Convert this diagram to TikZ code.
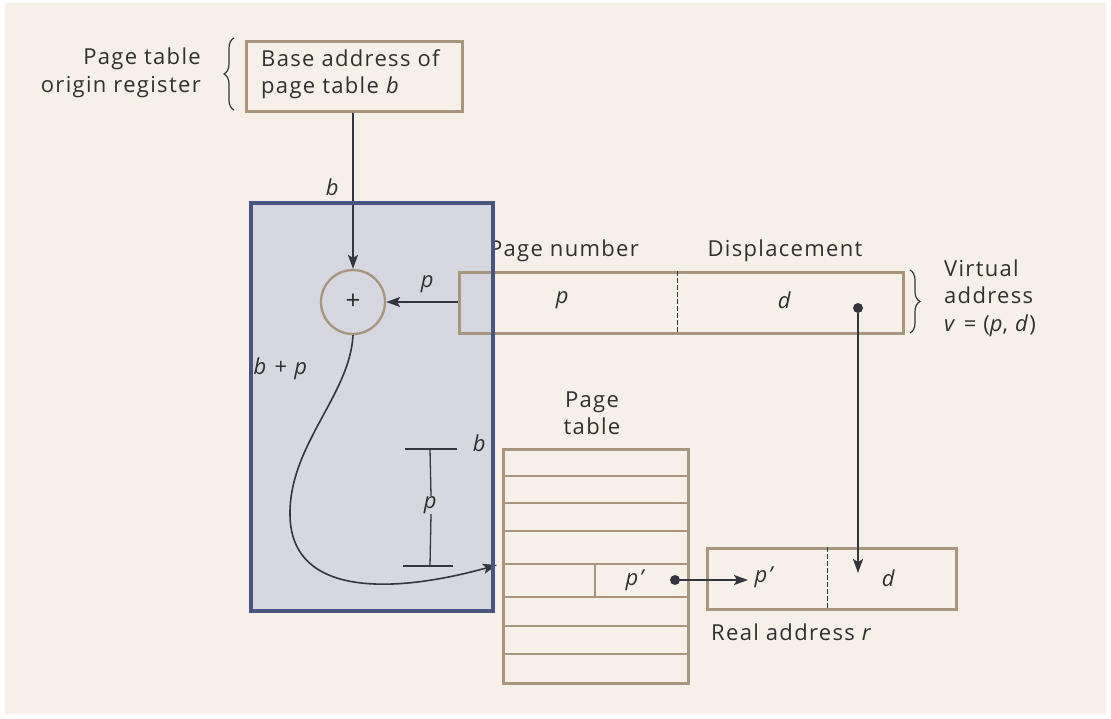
\documentclass[tikz,border=0pt]{standalone}
\usepackage{fontspec}
\setmainfont{Open Sans}[LetterSpace=6]
\usetikzlibrary{arrows.meta,decorations.pathreplacing}
\definecolor{bg}{HTML}{F6F0E8}
\definecolor{tanc}{HTML}{A8957E}
\definecolor{ink}{HTML}{35353F}
\definecolor{bluefill}{HTML}{D6D7E1}
\definecolor{blueedge}{HTML}{4A5483}
\definecolor{txt}{HTML}{303030}
\begin{document}
\begin{tikzpicture}[x=1pt,y=-1pt,
  font=\fontsize{22}{27.5}\selectfont,
  tanbox/.style={draw=tanc, line width=2.5pt, inner sep=0pt},
  inkline/.style={draw=ink, line width=1.6pt},
  arr/.style={inkline, -{Stealth[length=14pt,width=10pt,inset=3pt]}},
  lbl/.style={text=txt, inner sep=0pt},
  dotn/.style={circle, fill=ink, minimum size=10pt, inner sep=0pt},
  bracebig/.style={draw=ink, line width=1.2pt, decorate, decoration={brace, amplitude=10pt}}]
\useasboundingbox (0,0) rectangle (1111,718);
\fill[white] (0,0) rectangle (1111,718);
\fill[bg] (5,3) rectangle (1106,714);

% blue region (fill)
\fill[bluefill] (251,203) rectangle (493,611);

% register
\node[tanbox, minimum width=216pt, minimum height=70pt, anchor=north west] (reg) at (245,40) {};
\node[lbl, anchor=west, align=left] (regtxt) at (261,74) {Base address of\\page table \textit{b}};
\node[lbl, anchor=east, align=right] (regname) at (201,73) {Page table\\origin register};
\draw[bracebig] (234,110) -- (234,38);

% adder
\node[circle, draw=tanc, line width=2.3pt, minimum size=64pt, inner sep=0pt] (circ) at (353,302) {};
\node[lbl, font=\fontsize{26}{26}\selectfont] (plus) at (circ) {+};

% virtual address
\node[tanbox, minimum width=444pt, minimum height=61pt, anchor=north west] (virt) at (458,271) {};
\draw[inkline, line width=1pt, dashed, dash pattern=on 5pt off 2pt] (677,271) -- (677,332);
\node[lbl] (vp) at (563,300) {\textit{p}};
\node[lbl] (vd) at (785,300) {\textit{d}};
\node[lbl] (pgnum) at (564,251) {Page number};
\node[lbl] (disp) at (785,251) {Displacement};
\draw[bracebig] (910,270) -- (910,333);
\node[lbl, anchor=west, align=left] (vatxt) at (944,298) {Virtual\\address\\\textit{v} = (\textit{p}, \textit{d})};
\node[dotn] (vdot) at (858,308) {};

% page table
\node[tanbox, minimum width=185pt, minimum height=234pt, anchor=north west] (pt) at (502,448) {};
\foreach \yy in {476,503,531,564,597,626,654}
  \draw[tanc, line width=2.3pt] (502,\yy) -- (687,\yy);
\draw[tanc, line width=2.3pt] (595,564) -- (595,597);
\node[lbl] (ptp) at (636,580) {\textit{p’}};
\node[lbl, align=center] (pttitle) at (592,413) {Page\\table};
\node[dotn] (ptdot) at (675,580) {};
\coordinate (ptin) at (497,565);

% real address
\node[tanbox, minimum width=249pt, minimum height=61pt, anchor=north west] (real) at (706,547) {};
\draw[inkline, line width=1pt, dashed, dash pattern=on 5pt off 2pt] (827,547) -- (827,608);
\node[lbl] (rp) at (765,577) {\textit{p’}};
\node[lbl] (rd) at (889,578) {\textit{d}};
\node[lbl, anchor=west] (realtxt) at (711,632) {Real address \textit{r}};
\coordinate (rin) at (748,580);
\coordinate (rdin) at (858,573);

% labels in blue region
\node[lbl] (lb) at (333,187) {\textit{b}};
\node[lbl] (lp) at (428,284) {\textit{p}};
\node[lbl] (lbp) at (281,369) {\textit{b} + \textit{p}};
\node[lbl] (lb2) at (480,443) {\textit{b}};
\node[lbl] (lp2) at (431,505) {\textit{p}};

% dimension marker
\coordinate (dtop) at (430,449);
\coordinate (dbot) at (430,566);
\draw[inkline, line width=1.3pt] (405,449) -- (457,449);
\draw[inkline, line width=1.3pt] (403,566) -- (453,566);
\draw[inkline, line width=1.3pt] (dtop) -- (lp2.north);
\draw[inkline, line width=1.3pt] (lp2.south) -- (dbot);

% connectors
\draw[arr] (circ |- reg.south) -- (circ.north);
\draw[arr] (virt.west |- circ) -- (circ.east);
\draw[arr] (circ.south) .. controls (350,395) and (289,445) .. (290,515)
  .. controls (291,600) and (400,592) .. (ptin);
\draw[arr] (ptdot) -- (rin);
\draw[arr] (vdot) -- (rdin);

% blue region border
\draw[blueedge, line width=3.5pt] (251,203) rectangle (493,611);
\end{tikzpicture}
\end{document}
